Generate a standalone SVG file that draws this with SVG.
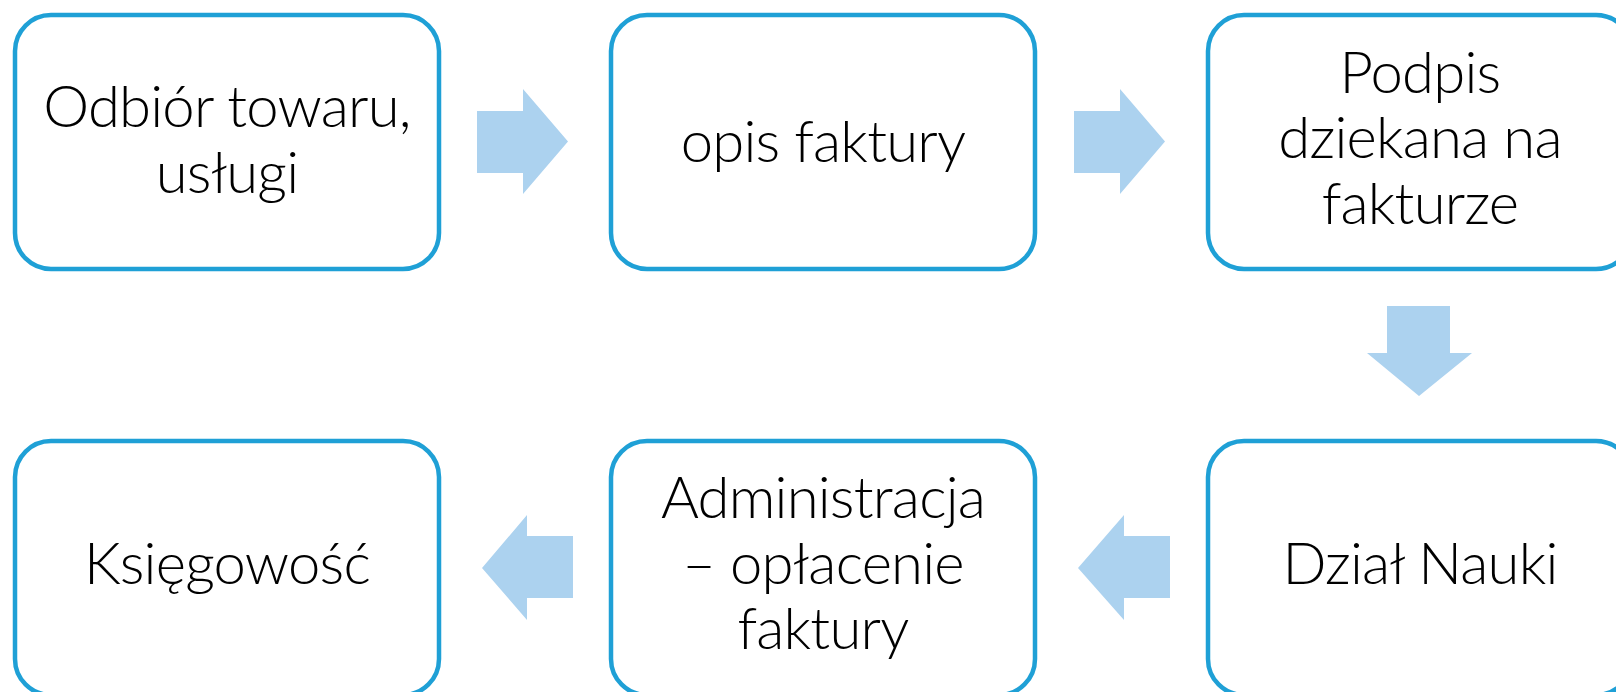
<svg xmlns="http://www.w3.org/2000/svg" width="1616" height="692" viewBox="0 0 1616 692">
<style>
.box{fill:#ffffff;stroke:#1fa0d6;stroke-width:4.5}
.arr{fill:#acd2ef}
text{font-family:Lato,"Liberation Sans",sans-serif;font-weight:300;font-size:58px;letter-spacing:-0.8px;fill:#000;text-anchor:middle}
</style>
<rect width="1616" height="692" fill="#ffffff"/>
<g id="connectors">
<polygon class="arr" points="477,111 523,111 523,89 568,141.5 523,194 523,173 477,173"/>
<polygon class="arr" points="1074,111 1120,111 1120,89 1165,141.5 1120,194 1120,173 1074,173"/>
<polygon class="arr" points="1387,306 1450,306 1450,353 1472,353 1419,396 1367,353 1387,353"/>
<polygon class="arr" points="1170,536 1124,536 1124,515 1078,568 1124,620 1124,598 1170,598"/>
<polygon class="arr" points="573,536 527,536 527,515 482,568 527,620 527,598 573,598"/>
</g>
<g id="node1"><rect class="box" x="15" y="15" width="424" height="254" rx="36"/><text x="227" y="127">Odbiór towaru,</text><text x="227" y="193">usługi</text></g>
<g id="node2"><rect class="box" x="611" y="15" width="424" height="254" rx="36"/><text x="823" y="162">opis faktury</text></g>
<g id="node3"><rect class="box" x="1208" y="15" width="424" height="254" rx="36"/><text x="1420" y="93">Podpis</text><text x="1420" y="158">dziekana na</text><text x="1420" y="224">fakturze</text></g>
<g id="node4"><rect class="box" x="1208" y="441" width="424" height="254" rx="36"/><text x="1420" y="584">Dział Nauki</text></g>
<g id="node5"><rect class="box" x="611" y="441" width="424" height="254" rx="36"/><text x="823" y="518">Administracja</text><text x="823" y="584">– opłacenie</text><text x="823" y="649">faktury</text></g>
<g id="node6"><rect class="box" x="15" y="441" width="424" height="254" rx="36"/><text x="227" y="584">Księgowość</text></g>
</svg>
